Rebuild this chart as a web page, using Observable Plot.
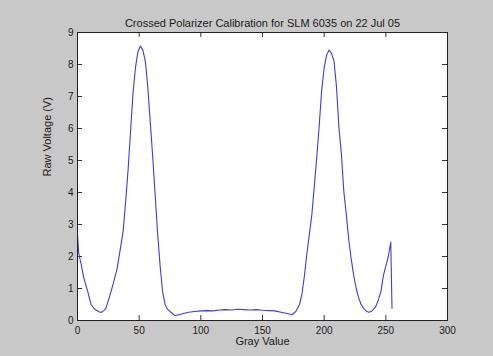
<!DOCTYPE html>
<html>
<head>
<meta charset="utf-8">
<script src="https://cdn.jsdelivr.net/npm/d3@7"></script>
<script src="https://cdn.jsdelivr.net/npm/@observablehq/plot@0.6"></script>
<style>
  html, body { margin: 0; padding: 0; background: #c8c8c8; }
  #chart { width: 493px; height: 356px; }
</style>
</head>
<body>
<div id="chart"></div>
<script>
const titleText = "Crossed Polarizer Calibration for SLM 6035 on 22 Jul 05";
const xLabel = "Gray Value";
const yLabel = "Raw Voltage (V)";
const xTicks = [0, 50, 100, 150, 200, 250, 300];
const yTicks = [0, 1, 2, 3, 4, 5, 6, 7, 8, 9];

const grayValues = [0, 1, 3, 5, 8, 11, 14, 17, 19, 21, 23, 26, 29, 32, 35, 37, 39, 41, 43, 45, 47, 49, 51, 53, 55, 57, 59, 61, 63, 65, 67, 69, 71, 73, 76, 79, 82, 86, 90, 95, 100, 105, 110, 115, 120, 125, 130, 135, 140, 145, 150, 155, 160, 165, 170, 174, 177, 180, 182, 184, 186, 188, 190, 192, 194, 196, 198, 200, 202, 204, 206, 208, 210, 212, 214, 216, 218, 220, 222, 224, 226, 228, 230, 232, 234, 236, 238, 240, 242, 244, 246, 248, 250, 252, 254, 255];
const voltages = [2.7, 2.1, 1.75, 1.35, 0.95, 0.5, 0.35, 0.28, 0.25, 0.3, 0.38, 0.75, 1.15, 1.6, 2.3, 2.8, 3.7, 4.7, 5.9, 7.1, 7.9, 8.4, 8.58, 8.45, 8.1, 7.3, 6.2, 5.1, 3.9, 2.7, 1.7, 0.9, 0.5, 0.35, 0.25, 0.15, 0.18, 0.22, 0.26, 0.28, 0.3, 0.31, 0.3, 0.33, 0.34, 0.33, 0.35, 0.34, 0.33, 0.34, 0.32, 0.31, 0.3, 0.26, 0.22, 0.18, 0.28, 0.5, 0.83, 1.4, 2.1, 2.7, 3.3, 4.2, 5.1, 6.1, 7.2, 7.9, 8.3, 8.45, 8.35, 8.1, 7.3, 6.0, 5.2, 4.0, 3.3, 2.5, 1.9, 1.4, 1.0, 0.7, 0.5, 0.38, 0.3, 0.26, 0.28, 0.35, 0.45, 0.65, 0.9, 1.4, 1.7, 2.0, 2.45, 0.38];

const data = grayValues.map((g, i) => ({gray: g, v: voltages[i]}));

const W = 493, H = 356;
const mL = 77, mR = 46, mT = 32, mB = 36;
const innerW = W - mL - mR, innerH = H - mT - mB;
const tickLen = 5;

const chart = Plot.plot({
  width: W,
  height: H,
  marginLeft: mL,
  marginRight: mR,
  marginTop: mT,
  marginBottom: mB,
  style: {
    background: "transparent",
    fontFamily: "Arial, 'Liberation Sans', sans-serif",
    fontSize: "10px",
    color: "#1a1a1a"
  },
  x: {domain: [0, 300]},
  y: {domain: [0, 9]},
  marks: [
    Plot.frame({fill: "white", stroke: null}),
    Plot.ruleX(xTicks, {x: d => d, insetTop: innerH - tickLen, stroke: "#333"}),
    Plot.ruleX(xTicks, {x: d => d, insetBottom: innerH - tickLen, stroke: "#333"}),
    Plot.ruleY(yTicks, {y: d => d, insetRight: innerW - tickLen, stroke: "#333"}),
    Plot.ruleY(yTicks, {y: d => d, insetLeft: innerW - tickLen, stroke: "#333"}),
    Plot.line(data, {x: "gray", y: "v", stroke: "#3d3dd8", strokeWidth: 1.1}),
    Plot.frame({stroke: "#222", strokeWidth: 1}),
    Plot.axisX({ticks: xTicks, tickSize: 0, tickPadding: 6, label: null, tickFormat: d => String(d)}),
    Plot.axisY({ticks: yTicks, tickSize: 0, tickPadding: 4, label: null, tickFormat: d => String(d)}),
    Plot.text([titleText], {text: d => d, frameAnchor: "top", dy: -13, fontSize: 11, fill: "#1a1a1a"}),
    Plot.text([xLabel], {text: d => d, frameAnchor: "bottom", dy: 24, fontSize: 11, fill: "#1a1a1a"}),
    Plot.text([yLabel], {text: d => d, frameAnchor: "left", dx: -30, rotate: -90, fontSize: 11, fill: "#1a1a1a"})
  ]
});
document.getElementById("chart").appendChild(chart);
</script>
</body>
</html>
